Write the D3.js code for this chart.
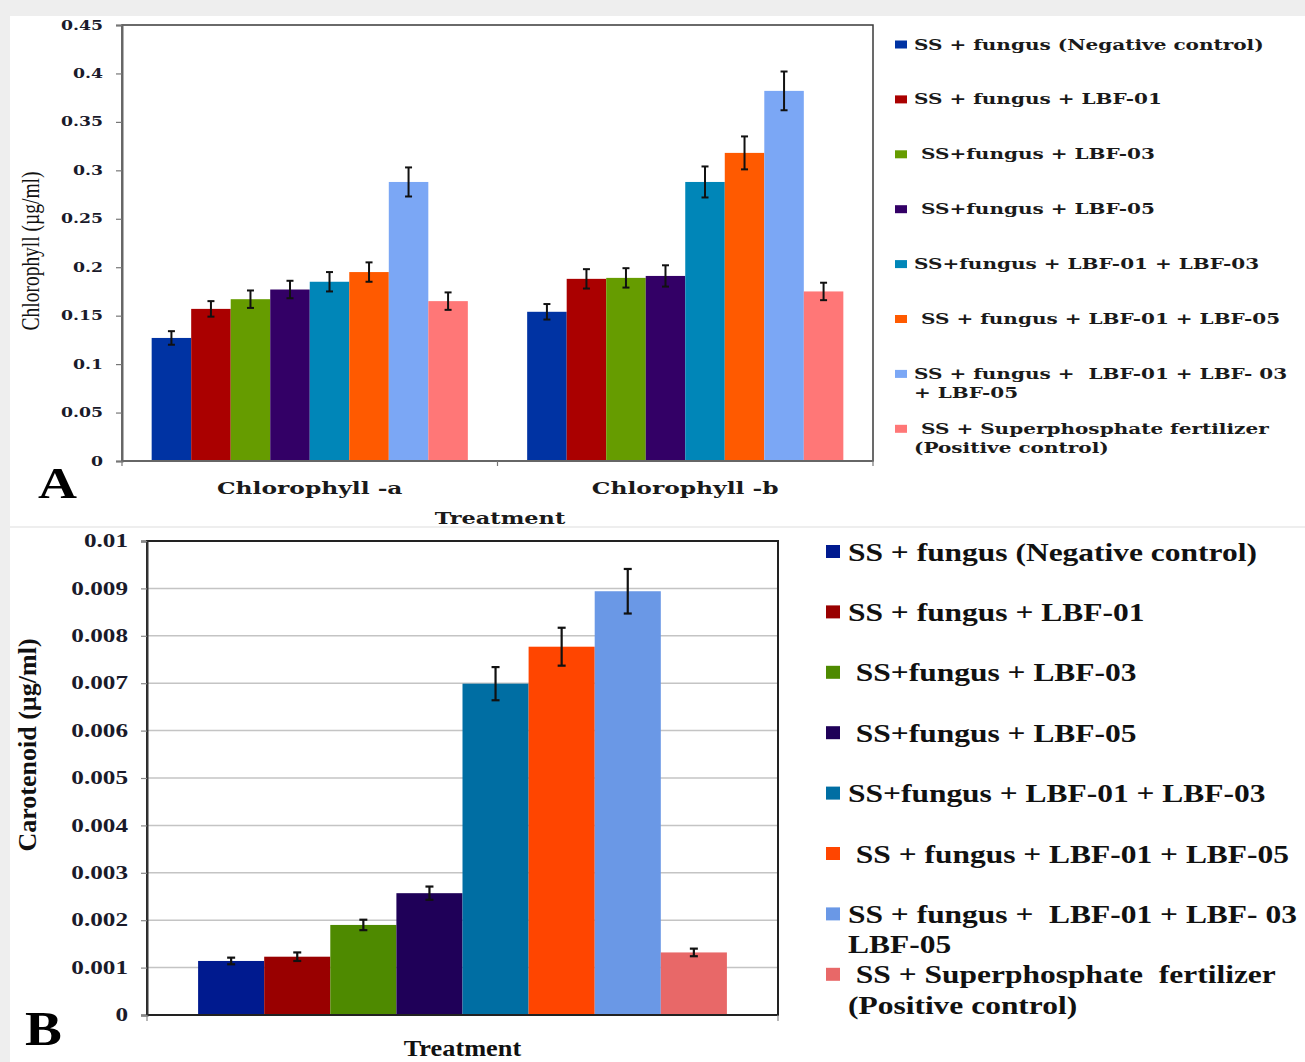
<!DOCTYPE html>
<html>
<head>
<meta charset="utf-8">
<script src="https://cdn.jsdelivr.net/npm/d3@7"></script>
<style>
  html, body { margin: 0; padding: 0; background: #eeeeee; }
  svg { display: block; }
  text { white-space: pre; }
</style>
</head>
<body>
<svg id="fig" width="1305" height="1062"></svg>
<script>
// ---- data ----
const seriesKeys = [0, 1, 2, 3, 4, 5, 6, 7];

const colorsA = ["#0033a3", "#aa0000", "#669c00", "#330066", "#0086b8", "#ff5a00", "#7ba7f5", "#ff7777"];
const colorsB = ["#001a8f", "#990000", "#4e8a00", "#1f0058", "#006ea3", "#ff4500", "#6a98e6", "#e86868"];

const chlCategories = ["Chlorophyll -a", "Chlorophyll -b"];
const chlorophyllA    = [0.127, 0.157, 0.167, 0.177, 0.185, 0.195, 0.288, 0.165];
const chlorophyllAErr = [0.007, 0.008, 0.009, 0.009, 0.010, 0.010, 0.015, 0.009];
const chlorophyllB    = [0.154, 0.188, 0.189, 0.191, 0.288, 0.318, 0.382, 0.175];
const chlorophyllBErr = [0.008, 0.010, 0.010, 0.011, 0.016, 0.017, 0.020, 0.009];

const carotenoid    = [0.00114, 0.00123, 0.00190, 0.00257, 0.00699, 0.00777, 0.00894, 0.00132];
const carotenoidErr = [0.00007, 0.00009, 0.00011, 0.00014, 0.00035, 0.00040, 0.00047, 0.00008];

const chlTicks      = [0, 0.05, 0.1, 0.15, 0.2, 0.25, 0.3, 0.35, 0.4, 0.45];
const chlTickLabels = ["0", "0.05", "0.1", "0.15", "0.2", "0.25", "0.3", "0.35", "0.4", "0.45"];
const carTicks      = [0, 0.001, 0.002, 0.003, 0.004, 0.005, 0.006, 0.007, 0.008, 0.009, 0.01];
const carTickLabels = ["0", "0.001", "0.002", "0.003", "0.004", "0.005", "0.006", "0.007", "0.008", "0.009", "0.01"];

const legendLabelsA = [
  ["SS + fungus (Negative control)"],
  ["SS + fungus + LBF-01"],
  [" SS+fungus + LBF-03"],
  [" SS+fungus + LBF-05"],
  ["SS+fungus + LBF-01 + LBF-03"],
  [" SS + fungus + LBF-01 + LBF-05"],
  ["SS + fungus +  LBF-01 + LBF- 03", "+ LBF-05"],
  [" SS + Superphosphate fertilizer", "(Positive control)"]
];
const legendLabelsB = [
  ["SS + fungus (Negative control)"],
  ["SS + fungus + LBF-01"],
  [" SS+fungus + LBF-03"],
  [" SS+fungus + LBF-05"],
  ["SS+fungus + LBF-01 + LBF-03"],
  [" SS + fungus + LBF-01 + LBF-05"],
  ["SS + fungus +  LBF-01 + LBF- 03 +", "LBF-05"],
  [" SS + Superphosphate  fertilizer", "(Positive control)"]
];

// ---- helpers ----
const svg = d3.select("#fig");
const FONT_A = "'DejaVu Serif', serif";
const FONT_B = "'Liberation Serif', 'Times New Roman', serif";

// stretch glyphs horizontally by factor k (wide typesetting)
function widen(sel, k) {
  sel.each(function () {
    const w = this.getComputedTextLength();
    this.setAttribute("textLength", (w * k).toFixed(2));
    this.setAttribute("lengthAdjust", "spacingAndGlyphs");
  });
}

// ---- panel backgrounds ----
svg.append("rect").attr("x", 10).attr("y", 16).attr("width", 1295).attr("height", 510).attr("fill", "#fff");
svg.append("rect").attr("x", 10).attr("y", 528).attr("width", 1295).attr("height", 534).attr("fill", "#fff");

// ================= Panel A: chlorophyll =================
const A = { left: 122, right: 873, top: 25, bottom: 461 };
const yA = d3.scaleLinear().domain([0, 0.45]).range([A.bottom, A.top]);
const x0A = d3.scaleBand().domain(chlCategories).range([A.left, A.right]).paddingInner(0.158).paddingOuter(0.079);
const x1A = d3.scaleBand().domain(seriesKeys).range([0, x0A.bandwidth()]);
const chlValues = [chlorophyllA, chlorophyllB];
const chlErrors = [chlorophyllAErr, chlorophyllBErr];

const gA = svg.append("g");
chlCategories.forEach((cat, ci) => {
  const g = gA.append("g").attr("transform", `translate(${x0A(cat)},0)`);
  g.selectAll("rect").data(seriesKeys).join("rect")
    .attr("x", i => x1A(i))
    .attr("y", i => yA(chlValues[ci][i]))
    .attr("width", x1A.bandwidth())
    .attr("height", i => yA(0) - yA(chlValues[ci][i]))
    .attr("fill", i => colorsA[i]);
  const eb = g.selectAll("g.err").data(seriesKeys).join("g").attr("class", "err")
    .attr("stroke", "#111").attr("stroke-width", 2);
  eb.append("line")
    .attr("x1", i => x1A(i) + x1A.bandwidth() / 2).attr("x2", i => x1A(i) + x1A.bandwidth() / 2)
    .attr("y1", i => yA(chlValues[ci][i] - chlErrors[ci][i]))
    .attr("y2", i => yA(chlValues[ci][i] + chlErrors[ci][i]));
  [-1, 1].forEach(s => {
    eb.append("line")
      .attr("x1", i => x1A(i) + x1A.bandwidth() / 2 - 3.5).attr("x2", i => x1A(i) + x1A.bandwidth() / 2 + 3.5)
      .attr("y1", i => yA(chlValues[ci][i] + s * chlErrors[ci][i]))
      .attr("y2", i => yA(chlValues[ci][i] + s * chlErrors[ci][i]));
  });
});

// frame
svg.append("rect").attr("x", A.left).attr("y", A.top).attr("width", A.right - A.left).attr("height", A.bottom - A.top)
  .attr("fill", "none").attr("stroke", "#3a3a3a").attr("stroke-width", 1.5);

// y axis
const axA = svg.append("g").attr("transform", `translate(${A.left},0)`)
  .call(d3.axisLeft(yA).tickValues(chlTicks).tickFormat((d, i) => chlTickLabels[i]).tickSize(6).tickPadding(13));
axA.select(".domain").attr("stroke", "#666").attr("stroke-width", 2);
axA.selectAll(".tick line").attr("stroke", "#777").attr("stroke-width", 1.2);
axA.selectAll(".tick text").attr("font-family", FONT_A).attr("font-weight", "bold").attr("font-size", 12.5)
  .attr("fill", "#1a1a2a").call(widen, 1.38);

// x axis baseline and category ticks
svg.append("line").attr("x1", A.left).attr("x2", A.right).attr("y1", A.bottom).attr("y2", A.bottom)
  .attr("stroke", "#666").attr("stroke-width", 2);
const catEdges = [A.left, ...chlCategories.slice(1).map(c => x0A(c) - x0A.step() * x0A.paddingInner() / 2), A.right];
svg.selectAll("line.catTick").data(catEdges).join("line").attr("class", "catTick")
  .attr("x1", d => d).attr("x2", d => d).attr("y1", A.bottom).attr("y2", A.bottom + 5)
  .attr("stroke", "#777").attr("stroke-width", 1.2);

svg.selectAll("text.catLabel").data(chlCategories).join("text").attr("class", "catLabel")
  .attr("x", d => x0A(d) + x0A.bandwidth() / 2).attr("y", 494)
  .attr("text-anchor", "middle").attr("font-family", FONT_A).attr("font-weight", "bold").attr("font-size", 16)
  .attr("fill", "#1a1a1a").text(d => d).call(widen, 1.46);

svg.append("text").attr("x", 500).attr("y", 524).attr("text-anchor", "middle")
  .attr("font-family", FONT_A).attr("font-weight", "bold").attr("font-size", 16).attr("fill", "#1a1a1a")
  .text("Treatment").call(widen, 1.4);

svg.append("text").attr("transform", "translate(39,251) rotate(-90) scale(1,1.25)").attr("text-anchor", "middle")
  .attr("font-family", FONT_B).attr("font-size", 19.5).attr("fill", "#111")
  .text("Chlorophyll (µg/ml)");

svg.append("text").attr("x", 38).attr("y", 498).attr("font-family", FONT_B).attr("font-weight", "bold")
  .attr("font-size", 45).attr("fill", "#000").text("A").call(widen, 1.2);

// legend A
const legA = svg.append("g");
legendLabelsA.forEach((lines, i) => {
  const cy = 44.5 + i * 54.9;
  legA.append("rect").attr("x", 895).attr("y", cy - 4).attr("width", 12).attr("height", 8).attr("fill", colorsA[i]);
  lines.forEach((ln, j) => {
    legA.append("text").attr("x", 914).attr("y", cy + 5 + j * 19)
      .attr("font-family", FONT_A).attr("font-weight", "bold").attr("font-size", 14).attr("fill", "#1a1a1a")
      .text(ln).call(widen, 1.43);
  });
});

// ================= Panel B: carotenoid =================
const B = { left: 147, right: 778, top: 541, bottom: 1015 };
const yB = d3.scaleLinear().domain([0, 0.01]).range([B.bottom, B.top]);
const xB = d3.scaleBand().domain(seriesKeys).range([B.left, B.right]).paddingInner(0).paddingOuter(0.773);

// gridlines
svg.selectAll("line.gridB").data(carTicks.slice(1)).join("line").attr("class", "gridB")
  .attr("x1", B.left).attr("x2", B.right).attr("y1", d => yB(d)).attr("y2", d => yB(d))
  .attr("stroke", "#c4c4c4").attr("stroke-width", 1.5);

svg.selectAll("rect.barB").data(seriesKeys).join("rect").attr("class", "barB")
  .attr("x", i => xB(i)).attr("y", i => yB(carotenoid[i]))
  .attr("width", xB.bandwidth()).attr("height", i => yB(0) - yB(carotenoid[i]))
  .attr("fill", i => colorsB[i]);

const ebB = svg.selectAll("g.errB").data(seriesKeys).join("g").attr("class", "errB")
  .attr("stroke", "#111").attr("stroke-width", 2.2);
ebB.append("line")
  .attr("x1", i => xB(i) + xB.bandwidth() / 2).attr("x2", i => xB(i) + xB.bandwidth() / 2)
  .attr("y1", i => yB(carotenoid[i] - carotenoidErr[i])).attr("y2", i => yB(carotenoid[i] + carotenoidErr[i]));
[-1, 1].forEach(s => {
  ebB.append("line")
    .attr("x1", i => xB(i) + xB.bandwidth() / 2 - 4).attr("x2", i => xB(i) + xB.bandwidth() / 2 + 4)
    .attr("y1", i => yB(carotenoid[i] + s * carotenoidErr[i])).attr("y2", i => yB(carotenoid[i] + s * carotenoidErr[i]));
});

svg.append("rect").attr("x", B.left).attr("y", B.top).attr("width", B.right - B.left).attr("height", B.bottom - B.top)
  .attr("fill", "none").attr("stroke", "#222").attr("stroke-width", 2);

const axB = svg.append("g").attr("transform", `translate(${B.left},0)`)
  .call(d3.axisLeft(yB).tickValues(carTicks).tickFormat((d, i) => carTickLabels[i]).tickSize(6).tickPadding(13));
axB.select(".domain").attr("stroke", "#333").attr("stroke-width", 2);
axB.selectAll(".tick line").attr("stroke", "#888").attr("stroke-width", 1.2);
axB.selectAll(".tick text").attr("font-family", FONT_B).attr("font-weight", "bold").attr("font-size", 18)
  .attr("fill", "#1a1a2a").call(widen, 1.4);

svg.selectAll("line.edgeB").data([B.left, B.right]).join("line").attr("class", "edgeB")
  .attr("x1", d => d).attr("x2", d => d).attr("y1", B.bottom).attr("y2", B.bottom + 6)
  .attr("stroke", "#888").attr("stroke-width", 1.2);

svg.append("text").attr("x", (B.left + B.right) / 2).attr("y", 1056).attr("text-anchor", "middle")
  .attr("font-family", FONT_B).attr("font-weight", "bold").attr("font-size", 22.5).attr("fill", "#111")
  .text("Treatment").call(widen, 1.17);

svg.append("text").attr("transform", "translate(36,745) rotate(-90)").attr("text-anchor", "middle")
  .attr("font-family", FONT_B).attr("font-weight", "bold").attr("font-size", 26).attr("fill", "#111")
  .text("Carotenoid (µg/ml)");

svg.append("text").attr("x", 25).attr("y", 1045).attr("font-family", FONT_B).attr("font-weight", "bold")
  .attr("font-size", 48).attr("fill", "#000").text("B").call(widen, 1.15);

// legend B
const legB = svg.append("g");
legendLabelsB.forEach((lines, i) => {
  const cy = 551.5 + i * 60.4;
  legB.append("rect").attr("x", 826).attr("y", cy - 6.5).attr("width", 14).attr("height", 13).attr("fill", colorsB[i]);
  lines.forEach((ln, j) => {
    legB.append("text").attr("x", 848).attr("y", cy + 9 + j * 30.5)
      .attr("font-family", FONT_B).attr("font-weight", "bold").attr("font-size", 26).attr("fill", "#111")
      .text(ln).call(widen, 1.21);
  });
});
</script>
</body>
</html>
